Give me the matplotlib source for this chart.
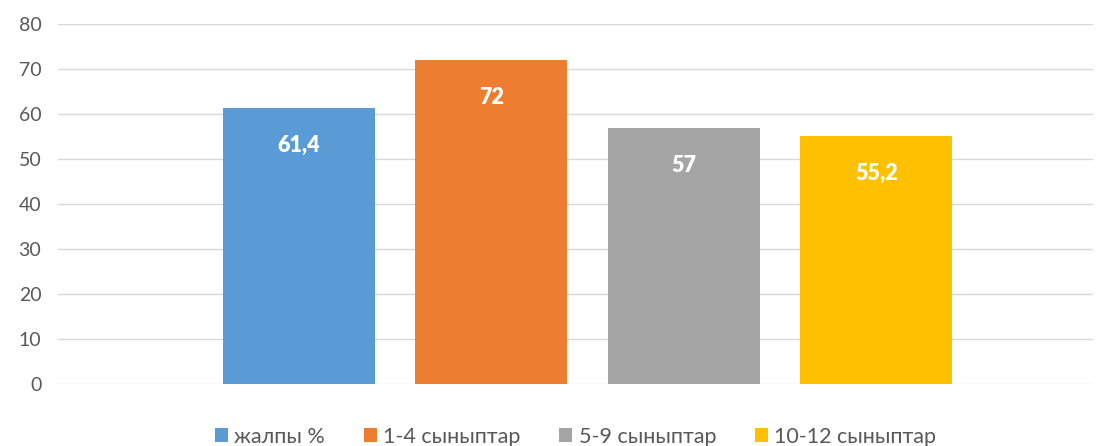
import matplotlib.pyplot as plt

plt.rcParams['font.family'] = ['Lato', 'DejaVu Sans']

series = ['жалпы %', '1-4 сыныптар', '5-9 сыныптар', '10-12 сыныптар']
values = [61.4, 72, 57, 55.2]
labels = ['61,4', '72', '57', '55,2']
colors = ['#5B9BD5', '#ED7D31', '#A5A5A5', '#FFC000']

fig = plt.figure(figsize=(11.07, 4.46), dpi=100)
ax = fig.add_axes([0.0524, 0.139, 0.935, 0.807])

width = 0.147
step = 0.186
for i, (name, v, lab, c) in enumerate(zip(series, values, labels, colors)):
    x = (i - 1.5) * step + 0.0116
    ax.bar(x, v, width=width, color=c, label=name, zorder=3)
    ax.text(x, v - 8.4, lab, ha='center', va='center', color='white',
            fontsize=15.5, fontweight='heavy', zorder=4)

ax.set_xlim(-0.5, 0.5)
ax.set_ylim(0, 80)
ax.set_yticks(range(0, 81, 10))
ax.set_xticks([])
ax.grid(axis='y', color='#D9D9D9', linewidth=1, zorder=0)
for s in ax.spines.values():
    s.set_visible(False)
ax.tick_params(axis='y', length=0, pad=12, labelsize=14, labelcolor='#595959')

ax.legend(loc='center', bbox_to_anchor=(0.5, -0.147), ncol=4, frameon=False,
          fontsize=15.5, labelcolor='#595959', handlelength=0.6, handleheight=0.6,
          handletextpad=0.3, columnspacing=1.8)

fig.savefig('out.png', dpi=100)
